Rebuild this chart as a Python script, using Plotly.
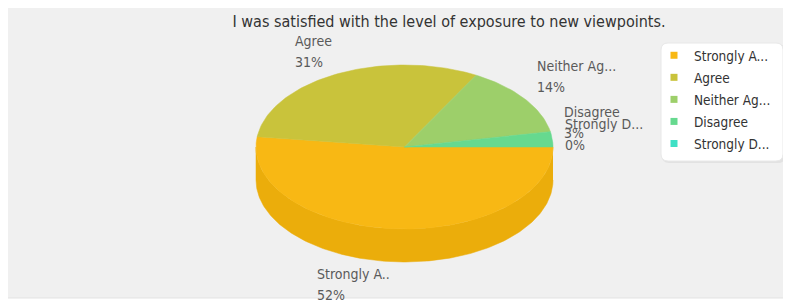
import numpy as np
import plotly.graph_objects as go

# ---- data ----
categories = ["Strongly Agree", "Agree", "Neither Agree nor Disagree", "Disagree", "Strongly Disagree"]
slice_labels = ["Strongly A..", "Agree", "Neither Ag...", "Disagree", "Strongly D..."]
legend_labels = ["Strongly A...", "Agree", "Neither Ag...", "Disagree", "Strongly D..."]
percent = [52, 31, 14, 3, 0]
title_text = "I was satisfied with the level of exposure to new viewpoints."

# ---- style ----
top_colors = ["#f8b814", "#c9c33b", "#9dcf6a", "#66d98f", "#3fe0c5"]
side_colors = ["#ebad0b", "#b9b334", "#8fbf5f", "#5cc882", "#38cfb4"]
FONT = "DejaVu Sans Condensed, DejaVu Sans, sans-serif"
W, H = 791, 306
OFF = 8  # page body margin: data coords == page pixels
CX, CY, RX, RY, DEPTH = 404.5, 147, 148.5, 82, 33

fig = go.Figure()

total = float(sum(percent))
starts = np.concatenate([[0], np.cumsum(percent)[:-1]]) / total * 2 * np.pi
ends = np.cumsum(percent) / total * 2 * np.pi


def arc(a, b, n, dy=0.0):
    t = np.linspace(a, b, n)
    return CX + RX * np.cos(t), CY + RY * np.sin(t) + dy


# side walls (front half only)
for i, (a0, a1) in enumerate(zip(starts, ends)):
    s0, s1 = max(a0, 0.0), min(a1, np.pi)
    if s1 <= s0:
        continue
    n = max(int(200 * (s1 - s0) / np.pi), 4)
    xt, yt = arc(s0, s1, n)
    xb, yb = arc(s1, s0, n, DEPTH)
    fig.add_trace(go.Scatter(
        x=np.concatenate([xt, xb]), y=np.concatenate([yt, yb]),
        fill="toself", mode="lines", fillcolor=side_colors[i],
        line=dict(color=side_colors[i], width=0.5),
        hoverinfo="skip", showlegend=False))

# top faces
for i, (a0, a1) in enumerate(zip(starts, ends)):
    if a1 - a0 <= 0:
        continue
    n = max(int(300 * (a1 - a0) / (2 * np.pi)), 4)
    xa, ya = arc(a0, a1, n)
    fig.add_trace(go.Scatter(
        x=np.concatenate([[CX], xa, [CX]]), y=np.concatenate([[CY], ya, [CY]]),
        fill="toself", mode="lines", fillcolor=top_colors[i],
        line=dict(color=top_colors[i], width=0.5),
        name=categories[i], hoverinfo="name", showlegend=False))

# legend entries
for i, lab in enumerate(legend_labels):
    fig.add_trace(go.Scatter(
        x=[None], y=[None], mode="markers", name=lab, legendgroup=lab,
        marker=dict(symbol="square", size=7, color=top_colors[i])))

# slice labels
annotations = []
for i, (a0, a1) in enumerate(zip(starts, ends)):
    m = (a0 + a1) / 2
    c, s = np.cos(m), np.sin(m)
    px = CX + RX * c
    py = CY + RY * s + (DEPTH if s > 1e-9 else 0)
    right = c > 0
    below = s > 1e-9
    if below:
        ysh = -2
    else:
        ysh = 2 - 10 * max(0.0, 1 - abs(s) / 0.2)
    txt = ("<span style='font-size:14px'>%s</span><br><span style='font-size:14px'>%d%%</span>"
           % (slice_labels[i], percent[i]))
    annotations.append(dict(
        x=px, y=py, xref="x", yref="y", text=txt, showarrow=False, align="left",
        xanchor="left" if right else "right",
        yanchor="top" if below else "bottom",
        xshift=10 if right else -3, yshift=ysh,
        font=dict(family=FONT, size=16, color="#5a5a5a")))


def rrect(x0, y0, x1, y1, r):
    return ("M %g %g L %g %g Q %g %g %g %g L %g %g Q %g %g %g %g L %g %g Q %g %g %g %g "
            "L %g %g Q %g %g %g %g Z" % (
                x0 + r, y0, x1 - r, y0, x1, y0, x1, y0 + r,
                x1, y1 - r, x1, y1, x1 - r, y1,
                x0 + r, y1, x0, y1, x0, y1 - r,
                x0, y0 + r, x0, y0, x0 + r, y0))


shapes = [
    dict(type="path", xref="x", yref="y", layer="below",
         path="M 6.5 11.5 Q 6.5 5.5 12.5 5.5 L 810 5.5 L 810 298 L 6.5 298 Z",
         fillcolor="#f0f0f0", line=dict(color="#e3e3e3", width=1)),
    dict(type="path", xref="x", yref="y", layer="below",
         path=rrect(662, 44, 785, 163, 7), fillcolor="#e2e2e2", line=dict(width=0)),
    dict(type="path", xref="x", yref="y", layer="below",
         path=rrect(661, 43, 783, 161, 7), fillcolor="white",
         line=dict(color="#e8e8e8", width=1)),
]

fig.update_layout(
    width=W, height=H, margin=dict(l=0, r=0, t=0, b=0),
    paper_bgcolor="white", plot_bgcolor="rgba(0,0,0,0)",
    xaxis=dict(range=[OFF, W + OFF], visible=False, fixedrange=True),
    yaxis=dict(range=[H + OFF, OFF], visible=False, fixedrange=True),
    title=dict(text=title_text, x=(449 - OFF) / W, y=1 - (21 - OFF) / H,
               xanchor="center", yanchor="middle",
               font=dict(family=FONT, size=16, color="#333333")),
    legend=dict(x=(654 - OFF) / W, y=1 - (40 - OFF) / H, xanchor="left", yanchor="top",
                bgcolor="rgba(0,0,0,0)", borderwidth=0,
                font=dict(family=FONT, size=13.5, color="#333333"),
                itemwidth=30, tracegroupgap=1.5),
    annotations=annotations,
    shapes=shapes,
    showlegend=True,
)

fig.write_html("out.html")
